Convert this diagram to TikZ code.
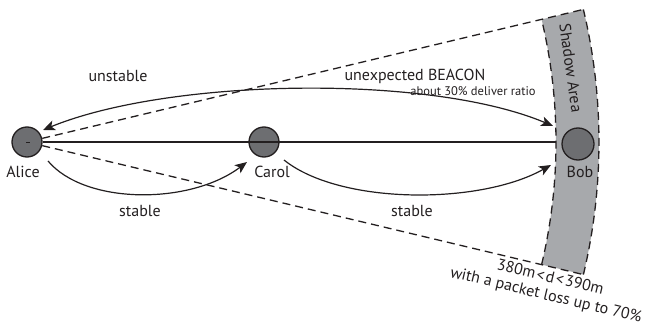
\documentclass[tikz,border=0pt]{standalone}
\usepackage{fontspec}
\setmainfont{PT Sans}
\usetikzlibrary{arrows.meta}
\definecolor{nodegray}{HTML}{6D6E71}
\definecolor{shadegray}{HTML}{A7A9AC}
\definecolor{ink}{HTML}{231F20}
\tikzset{
  peer/.style={circle, draw=ink, fill=nodegray, line width=1.3pt, minimum size=30pt, inner sep=0pt},
  lbl/.style={text=ink, font=\fontsize{16}{18}\selectfont, inner sep=0pt},
  small/.style={text=ink, font=\fontsize{12.5}{14}\selectfont, inner sep=0pt},
  link/.style={draw=ink, line width=1.2pt},
  dashlink/.style={draw=ink, line width=1.3pt, dash pattern=on 8pt off 5pt},
  arr/.style={draw=ink, line width=1.2pt, -{Stealth[length=12pt,width=10pt,inset=3pt]}},
  darr/.style={draw=ink, line width=1.2pt, {Stealth[length=12pt,width=10pt,inset=3pt]}-{Stealth[length=12pt,width=10pt,inset=3pt]}}
}
\begin{document}
\begin{tikzpicture}[x=1pt,y=-1pt]
\useasboundingbox (0,0) rectangle (654,326);
% geometry
\coordinate (ac) at (27,142);
\coordinate (itop) at (541.6,19.4);
\coordinate (otop) at (583.4,9.4);
\coordinate (obot) at (583.4,274.6);
\coordinate (ibot) at (541.6,264.6);
\coordinate (ileft) at (556,142);
% shadow area
\fill[shadegray] (itop) -- (otop) arc[start angle=-13.4, end angle=13.4, radius=572] -- (ibot) arc[start angle=13.4, end angle=-13.4, radius=529] -- cycle;
\draw[dashlink] (obot) arc[start angle=13.4, end angle=-13.4, radius=572];
\draw[dashlink] (ibot) arc[start angle=13.4, end angle=-13.4, radius=529];
% nodes
\node[peer] (alice) at (ac) {};
\node[peer] (carol) at (264,142) {};
\node[peer, minimum size=32pt] (bob) at (578,144) {};
\draw[ink, line width=1.2pt] (26,142.5) -- (29.5,142.5);
% lines
\draw[dashlink] (alice) -- (otop);
\draw[dashlink] (alice) -- (obot);
\draw[link] (alice) -- (ileft);
% arrows
\coordinate (u1) at (43,130);
\coordinate (u2) at (553,126);
\draw[darr] (u1) .. controls (170,78) and (430,74) .. (u2);
\coordinate (s1) at (48,161);
\coordinate (s2) at (247,162);
\draw[arr] (s1) .. controls (85,205) and (190,205) .. (s2);
\coordinate (t1) at (284,160);
\coordinate (t2) at (551,165);
\draw[arr] (t1) .. controls (340,205) and (480,205) .. (t2);
% labels
\node[lbl, anchor=north] (la) at (23,166) {Alice};
\node[lbl, anchor=north] (lc) at (272,166) {Carol};
\node[lbl, anchor=north] (lb) at (580,166) {Bob};
\node[lbl] (lu) at (118,76) {unstable};
\node[lbl] (lbeacon) at (415,76) {unexpected BEACON};
\node[small] (lratio) at (473,91) {about 30\% deliver ratio};
\node[lbl] (ls1) at (140,211) {stable};
\node[lbl] (ls2) at (412,211) {stable};
\node[lbl, rotate=-82] (lshadow) at (571,68) {Shadow Area};
\node[lbl, rotate=-13.4, align=center, font=\fontsize{16}{18}\selectfont] (lloss) at (548,287) {380m\kern1.5pt<\kern1.5pt d\kern1.5pt<\kern1.5pt 390m\\with a packet loss up to 70\%};
\end{tikzpicture}
\end{document}
